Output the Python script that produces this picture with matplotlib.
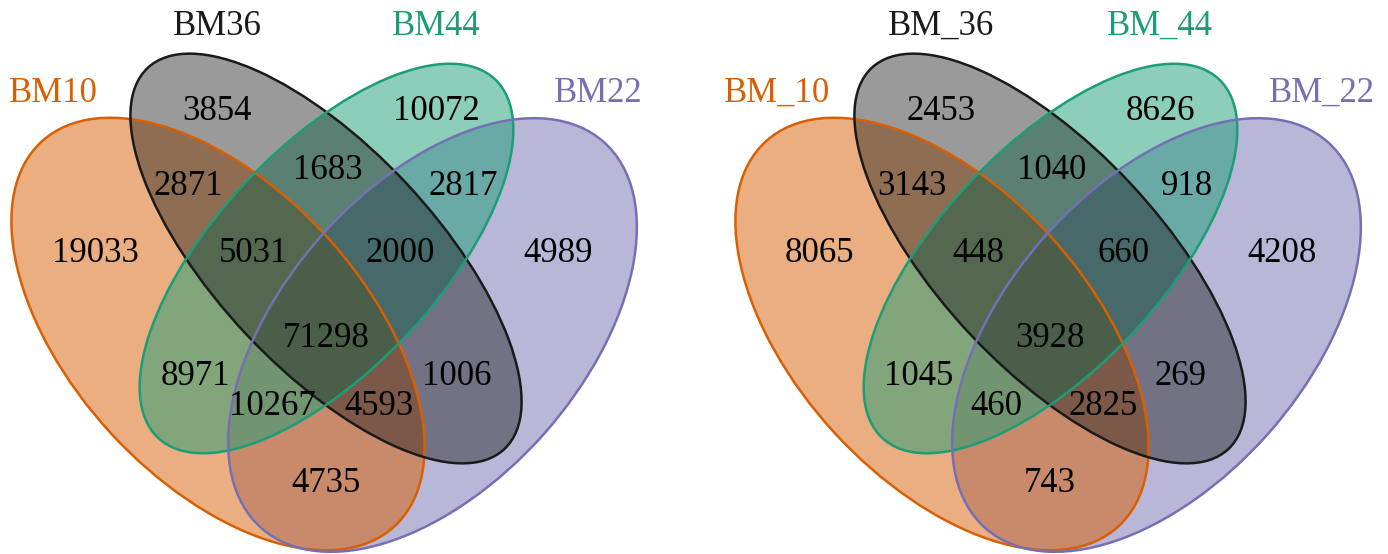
import matplotlib
matplotlib.use("Agg")
import matplotlib.pyplot as plt
from matplotlib.patches import Ellipse

# ---- data -------------------------------------------------------------
left_sets = ["BM10", "BM36", "BM44", "BM22"]
right_sets = ["BM_10", "BM_36", "BM_44", "BM_22"]

# sets: A = *10, B = *36, C = *44, D = *22
region_names = ["A", "B", "C", "D",
                "AB", "BC", "CD",
                "ABC", "BCD",
                "ABCD",
                "AC", "BD",
                "ACD", "ABD",
                "AD"]
left_counts = [19033, 3854, 10072, 4989,
               2871, 1683, 2817,
               5031, 2000,
               71298,
               8971, 1006,
               10267, 4593,
               4735]
right_counts = [8065, 2453, 8626, 4208,
                3143, 1040, 918,
                448, 660,
                3928,
                1045, 269,
                460, 2825,
                743]

# ---- layout (pixel space of one panel, y grows downward) --------------
region_xy = [(95, 250), (217, 108), (436, 108), (558, 250),
             (188, 183), (328, 167), (463, 183),
             (254, 250), (400, 250),
             (326, 335),
             (195, 373), (457, 373),
             (272, 403), (379, 403),
             (326, 480)]
label_xy = [(53, 90), (217, 23), (436, 23), (598, 90)]

# ellipse geometry: centre, semi-major, semi-minor, angle (deg, y down)
ellipses = [((218, 334), 261, 146, 47.5),
            ((326, 258.5), 261, 110, 46.9),
            ((326.5, 258.5), 246, 111, -46.8),
            ((432.5, 335), 258, 149, -48.4)]
edge_colors = ["#D95F02", "#1A1A1A", "#1B9E77", "#7570B3"]
fill_alpha = [0.5, 0.44, 0.5, 0.5]
# stacking of the translucent fills (bottom to top)
fill_order = [3, 0, 2, 1]

W, H = 1388, 554
panel_dx = [0, 724]
fs = 25
half_cap = 12  # half the digit/cap height in px at this font size

plt.rcParams["font.family"] = ["Liberation Serif", "DejaVu Serif"]
fig = plt.figure(figsize=(W / 100, H / 100), dpi=100)
ax = fig.add_axes([0, 0, 1, 1])
ax.set_xlim(0, W)
ax.set_ylim(H, 0)
ax.axis("off")

for dx, names, counts in zip(panel_dx, [left_sets, right_sets],
                             [left_counts, right_counts]):
    # translucent fills
    for i in fill_order:
        (c, a, b, ang) = ellipses[i]
        ax.add_patch(Ellipse((c[0] + dx, c[1]), 2 * a, 2 * b, angle=ang,
                             facecolor=edge_colors[i], alpha=fill_alpha[i],
                             edgecolor="none"))
    # outlines on top
    for (c, a, b, ang), col in zip(ellipses, edge_colors):
        ax.add_patch(Ellipse((c[0] + dx, c[1]), 2 * a, 2 * b, angle=ang,
                             facecolor="none", edgecolor=col, lw=1.8))
    for (x, y), v in zip(region_xy, counts):
        ax.text(x + dx, y + half_cap, str(v), ha="center", va="baseline",
                fontsize=fs, color="black")
    for (x, y), name, col in zip(label_xy, names, edge_colors):
        ax.text(x + dx, y + half_cap, name, ha="center", va="baseline",
                fontsize=fs, color=col)

fig.savefig("out.png", dpi=100)
